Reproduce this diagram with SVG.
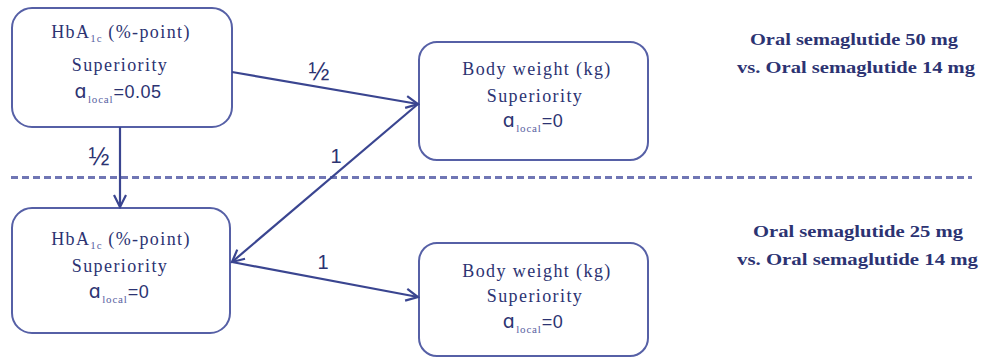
<svg xmlns="http://www.w3.org/2000/svg" width="983" height="358" viewBox="0 0 983 358">
  <style>
    .box { fill: #ffffff; stroke: #5660a6; stroke-width: 2; }
    .lbl { font-family: "Liberation Serif", "Times New Roman", serif; font-size: 18px; letter-spacing: 1.4px; fill: #2c3372; text-anchor: middle; }
    .sans { font-family: "Liberation Sans", Arial, sans-serif; letter-spacing: 0.5px; }
    .alpha { font-family: "DejaVu Sans", sans-serif; font-size: 19px; }
    .sub { font-family: "Liberation Serif", serif; font-size: 11px; letter-spacing: 0.8px; fill: #5a62a2; }
    .edge { stroke: #3a4590; stroke-width: 2.2; fill: none; marker-end: url(#head); }
    .wt { font-family: "Liberation Sans", Arial, sans-serif; font-size: 20px; fill: #2c3372; text-anchor: middle; }
    .half { font-size: 25px; }
    .title { font-family: "Liberation Serif", "Times New Roman", serif; font-size: 17px; font-weight: bold; fill: #2c3372; }
    .divider { stroke: #7076b4; stroke-width: 3; stroke-dasharray: 7 4; }
  </style>
  <defs>
    <marker id="head" markerUnits="userSpaceOnUse" markerWidth="16" markerHeight="16" viewBox="0 0 16 16" refX="14" refY="8" orient="auto">
      <path d="M2,2 L14,8 L2,14" fill="none" stroke="#3a4590" stroke-width="2.2"/>
    </marker>
  </defs>

  <!-- section divider -->
  <line class="divider" x1="11" y1="177.5" x2="972" y2="177.5"/>

  <!-- comparison titles -->
  <text class="title" x="750" y="45" textLength="208" lengthAdjust="spacingAndGlyphs">Oral semaglutide 50 mg</text>
  <text class="title" x="737" y="73" textLength="238" lengthAdjust="spacingAndGlyphs">vs. Oral semaglutide 14 mg</text>
  <text class="title" x="753" y="237" textLength="210" lengthAdjust="spacingAndGlyphs">Oral semaglutide 25 mg</text>
  <text class="title" x="737" y="265" textLength="241" lengthAdjust="spacingAndGlyphs">vs. Oral semaglutide 14 mg</text>

  <g id="hba1c-50">
    <rect class="box" x="12" y="8" width="220" height="119" rx="20"/>
    <text class="lbl" x="121" y="38">HbA<tspan class="sub" dy="4">1c</tspan><tspan dy="-4"> (%-point)</tspan></text>
    <text class="lbl" x="120" y="71">Superiority</text>
    <text class="lbl" x="118" y="98"><tspan class="alpha">ɑ</tspan><tspan class="sub" dy="5">local</tspan><tspan class="sans" dy="-5">=0.05</tspan></text>
  </g>

  <g id="weight-50">
    <rect class="box" x="419" y="42" width="229" height="118" rx="18"/>
    <text class="lbl" x="537" y="75">Body weight (kg)</text>
    <text class="lbl" x="535" y="102">Superiority</text>
    <text class="lbl" x="533" y="127"><tspan class="alpha">ɑ</tspan><tspan class="sub" dy="5">local</tspan><tspan class="sans" dy="-5">=0</tspan></text>
  </g>

  <g id="hba1c-25">
    <rect class="box" x="12" y="208" width="218" height="125" rx="20"/>
    <text class="lbl" x="121" y="245">HbA<tspan class="sub" dy="4">1c</tspan><tspan dy="-4"> (%-point)</tspan></text>
    <text class="lbl" x="120" y="272">Superiority</text>
    <text class="lbl" x="119" y="298"><tspan class="alpha">ɑ</tspan><tspan class="sub" dy="5">local</tspan><tspan class="sans" dy="-5">=0</tspan></text>
  </g>

  <g id="weight-25">
    <rect class="box" x="419" y="243" width="229" height="113" rx="18"/>
    <text class="lbl" x="537" y="277">Body weight (kg)</text>
    <text class="lbl" x="535" y="302">Superiority</text>
    <text class="lbl" x="533" y="328"><tspan class="alpha">ɑ</tspan><tspan class="sub" dy="5">local</tspan><tspan class="sans" dy="-5">=0</tspan></text>
  </g>

  <g id="connectors">
    <line class="edge" x1="232" y1="72" x2="418" y2="104"/>
    <line class="edge" x1="120" y1="127" x2="120" y2="207"/>
    <line class="edge" x1="418" y1="104" x2="232" y2="262"/>
    <line class="edge" x1="232" y1="262" x2="418" y2="297"/>
    <text class="wt half" x="319" y="80">½</text>
    <text class="wt half" x="99" y="165">½</text>
    <text class="wt" x="336" y="163">1</text>
    <text class="wt" x="323" y="269">1</text>
  </g>
</svg>
